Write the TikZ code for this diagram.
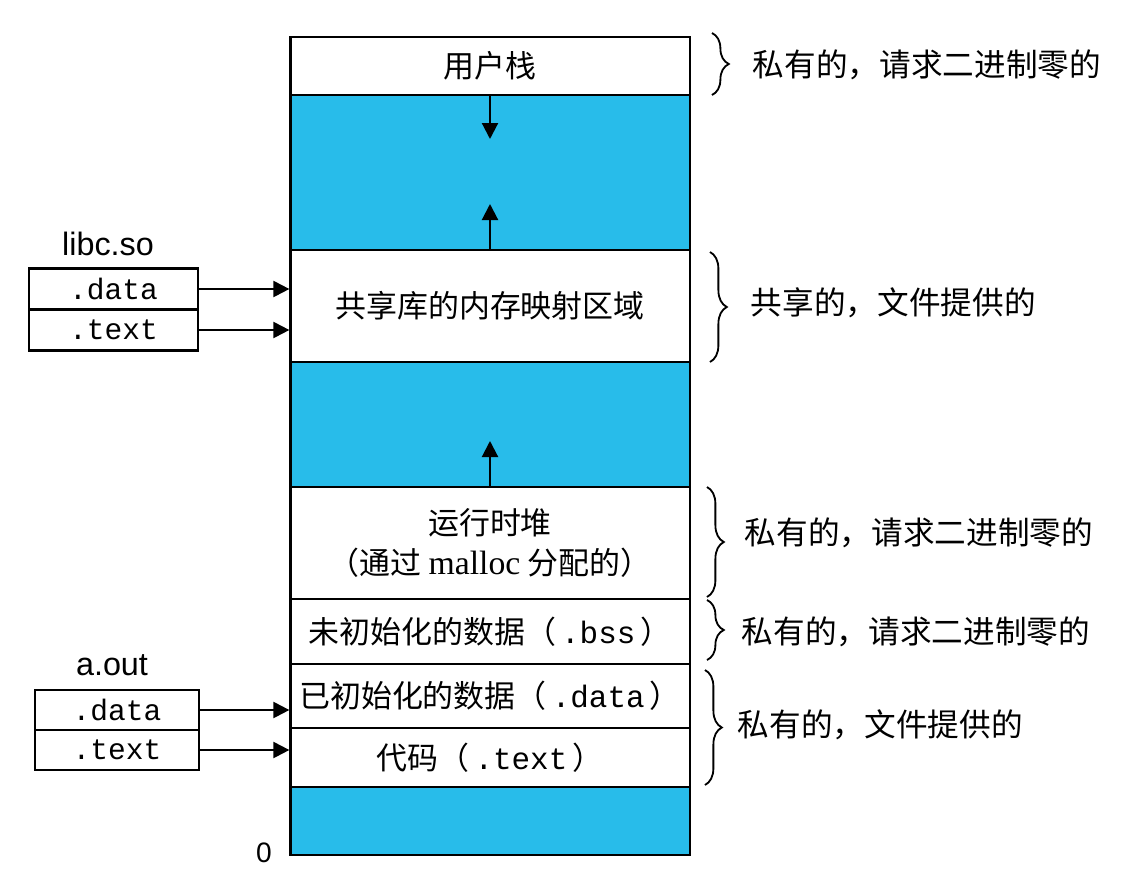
\documentclass[tikz,border=0pt]{standalone}
\usepackage{fontspec}
\setmainfont{Liberation Sans}
\setmonofont{Liberation Mono}
\newfontfamily\cjk{Noto Sans CJK SC}
\newfontfamily\romanfont{Liberation Serif}
\usetikzlibrary{arrows.meta,decorations.pathreplacing}
\definecolor{segblue}{RGB}{40,188,234}

\tikzset{
  seg/.style={draw,line width=1.5pt,minimum width=9.975cm,inner sep=0pt,
    font=\cjk\fontsize{22}{28}\selectfont,align=center},
  sect/.style={draw,line width=1.5pt,inner sep=0pt,
    font=\ttfamily\fontsize{21}{24}\selectfont},
  objname/.style={font=\fontsize{23}{26}\selectfont},
  note/.style={anchor=west,font=\cjk\fontsize{22.5}{26}\selectfont},
  brc/.style={decorate,decoration={brace,amplitude=0.42cm},line width=1.3pt},
  arr/.style={-{Triangle[length=0.4cm,width=0.4cm]},line width=1.5pt}
}

% one memory segment: name, top, bottom, fill, text
\newcommand{\memseg}[5]{%
  \pgfmathsetmacro{\segh}{(#3-#2)*0.025}
  \pgfmathsetmacro{\segc}{(#2+#3)/2}
  \node[seg,fill=#4,minimum height=\segh cm] (#1) at (490,\segc) {#5};
}

\begin{document}
\begin{tikzpicture}[x=0.025cm,y=-0.025cm]
  \useasboundingbox (0,0) rectangle (1121,877);

  % --- address space column, top to bottom
  \memseg{ustack}{37}{95}{white}{用户栈}
  \memseg{gapa}{95}{250}{segblue}{}
  \memseg{shlib}{250}{362}{white}{共享库的内存映射区域}
  \memseg{gapb}{362}{487}{segblue}{}
  \memseg{heap}{487}{599}{white}{运行时堆\\（通过 {\romanfont\fontsize{24}{28}\selectfont malloc} 分配的）}
  \memseg{bss}{599}{664}{white}{未初始化的数据（\,{\ttfamily .bss}\,）}
  \memseg{idata}{664}{728}{white}{已初始化的数据（\,{\ttfamily .data}\,）}
  \memseg{code}{728}{787}{white}{代码（\,{\ttfamily .text}\,）}
  \memseg{gapc}{787}{855}{segblue}{}
  \node[font=\fontsize{20}{24}\selectfont] (zero) at (264,853) {0};

  % --- growth arrows
  \coordinate (stktip) at (490,139);
  \coordinate (mmtip) at (490,204);
  \coordinate (heaptip) at (490,441);
  \draw[arr] (ustack.south) -- (stktip);
  \draw[arr] (shlib.north) -- (mmtip);
  \draw[arr] (heap.north) -- (heaptip);

  % --- libc.so
  \node[objname] (libname) at (108,244) {libc.so};
  \node[sect,minimum width=4.225cm,minimum height=1.025cm] (libd) at (113.5,289) {.data};
  \node[sect,minimum width=4.225cm,minimum height=1.025cm] (libt) at (113.5,330) {.text};
  \draw[arr] (libd.east) -- (libd.east -| shlib.west);
  \draw[arr] (libt.east) -- (libt.east -| shlib.west);

  % --- a.out
  \node[objname] (aoutname) at (112,665) {a.out};
  \node[sect,minimum width=4.1cm,minimum height=1cm] (aoutd) at (117,710) {.data};
  \node[sect,minimum width=4.1cm,minimum height=1cm] (aoutt) at (117,750) {.text};
  \draw[arr] (aoutd.east) -- (aoutd.east -| idata.west);
  \draw[arr] (aoutt.east) -- (aoutt.east -| code.west);

  % --- braces and notes
  \draw[brc] (712,33) -- (712,95);
  \node[note] (nstack) at (748,65) {私有的，请求二进制零的};
  \draw[brc] (710,252) -- (710,362);
  \node[note] (nshlib) at (746,303) {共享的，文件提供的};
  \draw[brc] (707,487) -- (707,597);
  \node[note] (nheap) at (740,533) {私有的，请求二进制零的};
  \draw[brc] (707,600) -- (707,660);
  \node[note] (nbss) at (737,632) {私有的，请求二进制零的};
  \draw[brc] (705,670) -- (705,785);
  \node[note] (naout) at (733,725) {私有的，文件提供的};
\end{tikzpicture}
\end{document}
